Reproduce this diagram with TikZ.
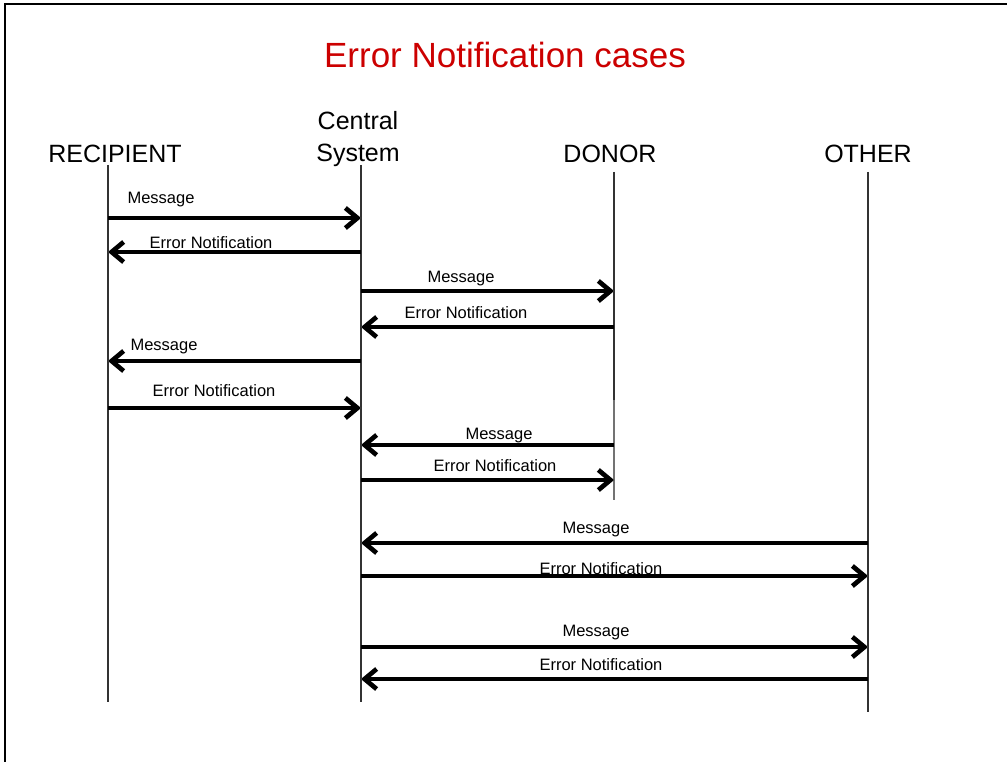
\documentclass[tikz,border=0pt]{standalone}
\usepackage{fontspec}
\setmainfont{Liberation Sans}
\usetikzlibrary{arrows.meta}
\definecolor{titlered}{HTML}{CC0000}
\tikzset{
  life/.style={line width=1.3pt, draw=black!80},
  msg/.style={line width=4.8pt, -{Straight Barb[length=12pt,width=20pt,line width=4.6pt]}},
  shad/.style={line width=4.8pt, draw=black!25, -{Straight Barb[length=12pt,width=20pt,line width=4.6pt]}, shift={(1.5pt,-2.4pt)}},
  lbl/.style={font=\fontsize{16.5pt}{18pt}\selectfont, inner sep=0pt},
  actor/.style={font=\fontsize{25pt}{32pt}\selectfont, inner sep=0pt, align=center},
}
\begin{document}
\begin{tikzpicture}[x=1pt,y=-1pt]
\useasboundingbox (0,0) rectangle (1007,762);
\fill[white] (0,0) rectangle (1007,762);
% frame
\draw[line width=2.5pt] (1012,4) -- (5,4) -- (5,768);
% title
\node[font=\fontsize{35pt}{40pt}\selectfont, text=titlered, inner sep=0pt] (title) at (505,55) {Error Notification cases};
% actors
\node[actor] (recipient) at (115,154) {RECIPIENT};
\node[actor] (central) at (358,139) {Central\\System};
\node[actor] (donor) at (610,154) {DONOR};
\node[actor] (other) at (868,154) {OTHER};
% lifelines
\coordinate (rT) at (108,165); \coordinate (rB) at (108,702);
\coordinate (cT) at (361,165); \coordinate (cB) at (361,702);
\coordinate (dT) at (614,172); \coordinate (dM) at (614,400); \coordinate (dB) at (614,500);
\coordinate (oT) at (868,172); \coordinate (oB) at (868,712);
\draw[life] (rT) -- (rB);
\draw[life] (cT) -- (cB);
\draw[life] (dT) -- (dM);
\draw[life, draw=black!55] (dM) -- (dB);
\draw[life] (oT) -- (oB);
% message endpoints
\foreach \n/\y in {1/218,2/252,3/291,4/327,5/361,6/408,7/445,8/480,9/543,10/576,11/647,12/679}{
  \coordinate (r\n) at (108,\y);
  \coordinate (c\n) at (361,\y);
  \coordinate (d\n) at (614,\y);
  \coordinate (o\n) at (868,\y);
}
% shadows
\foreach \a/\b in {r1/c1,c2/r2,c3/d3,d4/c4,c5/r5,r6/c6,d7/c7,c8/d8,o9/c9,c10/o10,c11/o11,o12/c12}{
  \draw[shad] (\a) -- (\b);
}
% arrows
\draw[msg] (r1) -- (c1);
\draw[msg] (c2) -- (r2);
\draw[msg] (c3) -- (d3);
\draw[msg] (d4) -- (c4);
\draw[msg] (c5) -- (r5);
\draw[msg] (r6) -- (c6);
\draw[msg] (d7) -- (c7);
\draw[msg] (c8) -- (d8);
\draw[msg] (o9) -- (c9);
\draw[msg] (c10) -- (o10);
\draw[msg] (c11) -- (o11);
\draw[msg] (o12) -- (c12);
% labels
\node[lbl] (m1) at (161,200) {Message};
\node[lbl] (e2) at (211,243) {Error Notification};
\node[lbl] (m3) at (461,279) {Message};
\node[lbl] (e4) at (466,313) {Error Notification};
\node[lbl] (m5) at (164,347) {Message};
\node[lbl] (e6) at (214,391) {Error Notification};
\node[lbl] (m7) at (499,436) {Message};
\node[lbl] (e8) at (495,466) {Error Notification};
\node[lbl] (m9) at (596,530) {Message};
\node[lbl] (e10) at (601,569) {Error Notification};
\node[lbl] (m11) at (596,633) {Message};
\node[lbl] (e12) at (601,665) {Error Notification};
\end{tikzpicture}
\end{document}
